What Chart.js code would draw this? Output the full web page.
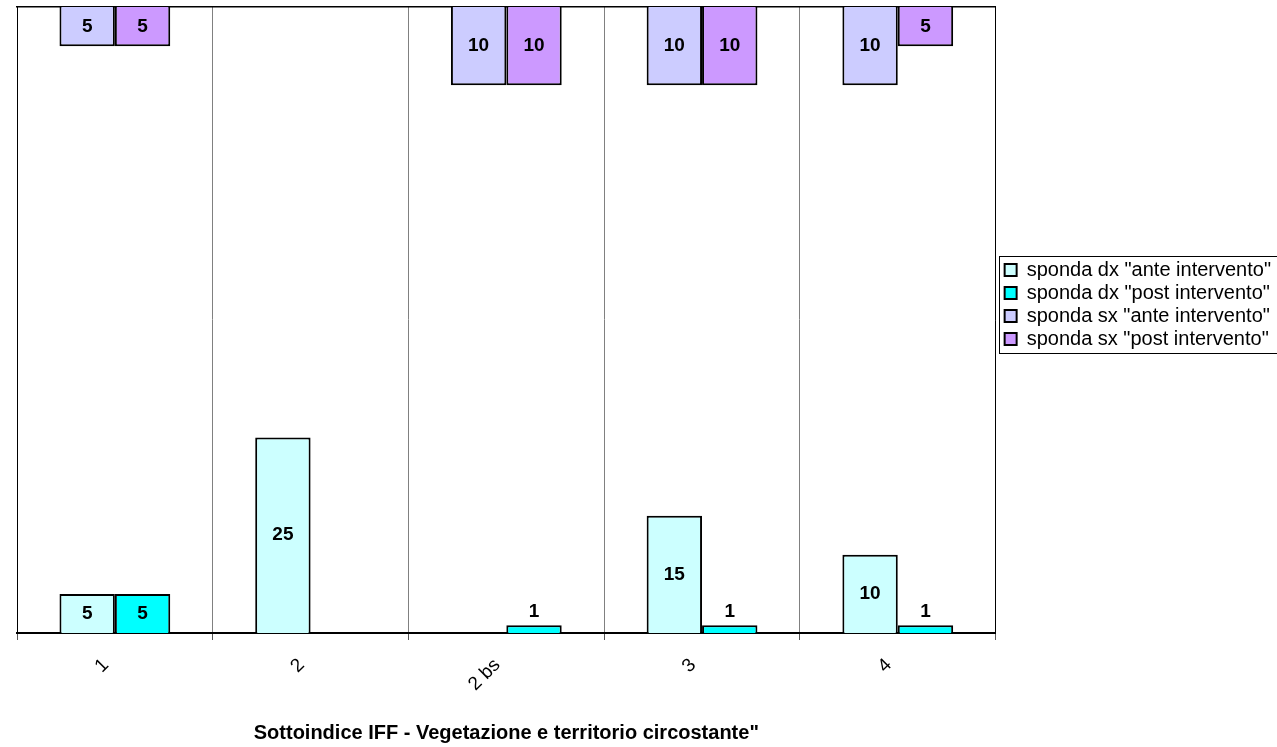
<!DOCTYPE html>
<html lang="it">
<head>
<meta charset="utf-8">
<title>Sottoindice IFF - Vegetazione e territorio circostante</title>
<script src="https://cdn.jsdelivr.net/npm/chart.js"></script>
<style>
  html, body { margin: 0; padding: 0; background: #ffffff; }
  #wrap { width: 1277px; height: 747px; }
</style>
</head>
<body>
<div id="wrap"><canvas id="chart-iff" width="1277" height="747"></canvas></div>
<script>
// categorie (sezioni) e valori
const categories = ['1', '2', '2 bs', '3', '4'];
const dxAnte = [5, 25, null, 15, 10];
const dxPost = [5, null, 1, 1, 1];
const sxAnte = [5, null, 10, 10, 10];
const sxPost = [5, null, 10, 10, 5];
const seriesNames = [
  'sponda dx "ante intervento"',
  'sponda dx "post intervento"',
  'sponda sx "ante intervento"',
  'sponda sx "post intervento"'
];
const axisMax = 80;
const xTitle = 'Sottoindice IFF - Vegetazione e territorio circostante"';

const FONT = '"Liberation Sans", Arial, sans-serif';

// etichette dei valori dentro le barre (sopra se la barra e' troppo bassa)
const barLabels = {
  id: 'barLabels',
  afterDatasetsDraw(chart) {
    const ctx = chart.ctx;
    ctx.save();
    ctx.font = 'bold 19px ' + FONT;
    ctx.fillStyle = '#000';
    ctx.textAlign = 'center';
    ctx.textBaseline = 'middle';
    chart.data.datasets.forEach((ds, i) => {
      const meta = chart.getDatasetMeta(i);
      meta.data.forEach((bar, j) => {
        const v = ds.data[j];
        if (v === null || v === undefined) return;
        const p = bar.getProps(['x', 'y', 'base'], true);
        const h = Math.abs(p.base - p.y);
        let ty = (p.y + p.base) / 2;
        if (h < 24) ty = Math.min(p.y, p.base) - 13;
        ctx.fillText(String(v), p.x, ty);
      });
    });
    ctx.restore();
  }
};

// cornice della legenda
const legendFrame = {
  id: 'legendFrame',
  afterDraw(chart) {
    const hb = chart.legend && chart.legend.legendHitBoxes;
    if (!hb || !hb.length) return;
    const last = hb[hb.length - 1];
    const ctx = chart.ctx;
    const x = Math.round(hb[0].left - 6) + 0.5;
    const y = Math.round(hb[0].top - 4) + 0.5;
    const b = Math.round(last.top + last.height + 4) + 0.5;
    ctx.save();
    ctx.strokeStyle = '#000';
    ctx.lineWidth = 1;
    ctx.strokeRect(x, y, chart.width - x + 5, b - y);
    ctx.restore();
  }
};

const hidden = { display: false, drawTicks: false, tickLength: 0 };

new Chart(document.getElementById('chart-iff').getContext('2d'), {
  type: 'bar',
  data: {
    labels: categories,
    datasets: [
      { label: seriesNames[0], data: dxAnte, stack: 'a', yAxisID: 'y',
        backgroundColor: '#CCFFFF', borderColor: '#000', borderWidth: 2 },
      { label: seriesNames[1], data: dxPost, stack: 'b', yAxisID: 'y',
        backgroundColor: '#00FFFF', borderColor: '#000', borderWidth: 2 },
      { label: seriesNames[2], data: sxAnte, stack: 'a', yAxisID: 'y2',
        backgroundColor: '#CCCCFF', borderColor: '#000', borderWidth: 2 },
      { label: seriesNames[3], data: sxPost, stack: 'b', yAxisID: 'y2',
        backgroundColor: '#CC99FF', borderColor: '#000', borderWidth: 2 }
    ]
  },
  options: {
    responsive: false,
    animation: false,
    categoryPercentage: 0.566,
    barPercentage: 1,
    layout: { padding: { top: 7, left: 17, right: -4, bottom: 0 } },
    scales: {
      x: {
        position: 'bottom',
        offset: true,
        grid: {
          offset: true,
          color: c => (c.index === 0 || c.index === categories.length) ? '#000' : '#808080',
          tickColor: '#555',
          tickLength: 7,
          lineWidth: 1
        },
        border: { color: '#000', width: 2 },
        ticks: {
          color: '#000',
          font: { family: FONT, size: 19 },
          minRotation: 45,
          maxRotation: 45,
          autoSkip: false,
          padding: 14,
          labelOffset: -9
        },
        title: {
          display: true,
          text: xTitle,
          color: '#000',
          font: { family: FONT, size: 20, weight: 'bold' },
          padding: { top: 0, bottom: 2 }
        },
        afterFit: s => { s.height = 114; }
      },
      xTop: {
        type: 'category',
        position: 'top',
        labels: categories,
        grid: hidden,
        ticks: { display: false },
        border: { color: '#000', width: 1.5 },
        afterFit: s => { s.height = 0; }
      },
      y: {
        position: 'left',
        min: 0,
        max: axisMax,
        grid: hidden,
        ticks: { display: false },
        border: { color: '#000', width: 1 },
        afterFit: s => { s.width = 0; }
      },
      y2: {
        position: 'right',
        reverse: true,
        min: 0,
        max: axisMax,
        grid: hidden,
        ticks: { display: false },
        border: { color: '#000', width: 1 },
        afterFit: s => { s.width = 6; }
      }
    },
    plugins: {
      tooltip: { enabled: false },
      legend: {
        position: 'right',
        align: 'start',
        maxWidth: 320,
        title: { display: true, text: ' ', padding: { top: 238, bottom: 0 }, font: { size: 10 } },
        labels: {
          color: '#000',
          font: { family: FONT, size: 20 },
          boxWidth: 12,
          boxHeight: 12,
          padding: 3
        }
      }
    }
  },
  plugins: [barLabels, legendFrame]
});
</script>
</body>
</html>
